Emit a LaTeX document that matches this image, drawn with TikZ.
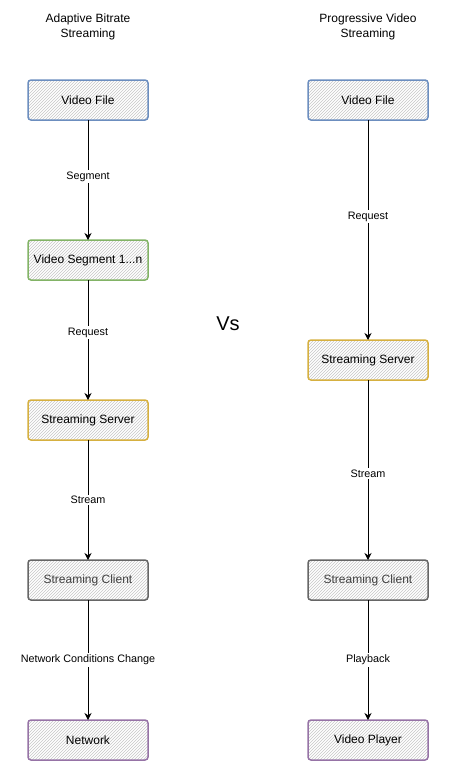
\documentclass[tikz,border=0pt]{standalone}
\usepackage{fontspec}
\setmainfont{Liberation Sans}
\usepackage{tikz}
\usetikzlibrary{positioning, arrows.meta, patterns}

\definecolor{bluestroke}{HTML}{6C8EBF}
\definecolor{greenstroke}{HTML}{82B366}
\definecolor{goldstroke}{HTML}{D6B040}
\definecolor{greystroke}{HTML}{666666}
\definecolor{purplestroke}{HTML}{9673A6}

\begin{document}
\begin{tikzpicture}[
        font=\fontsize{12pt}{14pt}\selectfont,
        box/.style={
            draw,
            line width=1.5pt,
            rounded corners=3pt,
            preaction={fill=white},
            pattern=north east lines,
            pattern color=black!22,
            minimum width=120pt,
            minimum height=40pt,
            inner sep=2pt,
            outer sep=0pt
        },
        lbl/.style={font=\fontsize{10.8pt}{13pt}\selectfont, fill=white, inner sep=1.5pt},
        ttl/.style={align=center, font=\fontsize{12pt}{15pt}\selectfont},
        flow/.style={-{Stealth[length=7pt, width=7pt]}, line width=0.8pt}
    ]
    \useasboundingbox (0pt,0pt) rectangle (464pt,-774pt);

    % titles
    \node[ttl] (tA) at (88pt,-27pt) {Adaptive Bitrate\\Streaming};
    \node[ttl] (tP) at (368pt,-27pt) {Progressive Video\\Streaming};
    \node[font=\fontsize{20pt}{24pt}\selectfont] (vs) at (228pt,-324pt) {Vs};

    % adaptive bitrate column
    \node[box, draw=bluestroke] (A1) at (88pt,-100pt) {Video File};
    \node[box, draw=greenstroke, below=120pt of A1] (A2) {Video Segment 1...n};
    \node[box, draw=goldstroke, below=120pt of A2] (A3) {Streaming Server};
    \node[box, draw=greystroke, text=black!75, below=120pt of A3] (A4) {Streaming Client};
    \node[box, draw=purplestroke, below=120pt of A4] (A5) {Network};

    \draw[flow] (A1) -- node[lbl, pos=0.47] {Segment} (A2);
    \draw[flow] (A2) -- node[lbl, pos=0.44] {Request} (A3);
    \draw[flow] (A3) -- node[lbl] {Stream} (A4);
    \draw[flow] (A4) -- node[lbl] {Network Conditions Change} (A5);

    % progressive video column
    \node[box, draw=bluestroke] (P1) at (368pt,-100pt) {Video File};
    \node[box, draw=goldstroke, below=220pt of P1] (P2) {Streaming Server};
    \node[box, draw=greystroke, text=black!75, below=180pt of P2] (P3) {Streaming Client};
    \node[box, draw=purplestroke, below=120pt of P3] (P4) {Video Player};

    \draw[flow] (P1) -- node[lbl, pos=0.44] {Request} (P2);
    \draw[flow] (P2) -- node[lbl, pos=0.52] {Stream} (P3);
    \draw[flow] (P3) -- node[lbl] {Playback} (P4);
\end{tikzpicture}
\end{document}
